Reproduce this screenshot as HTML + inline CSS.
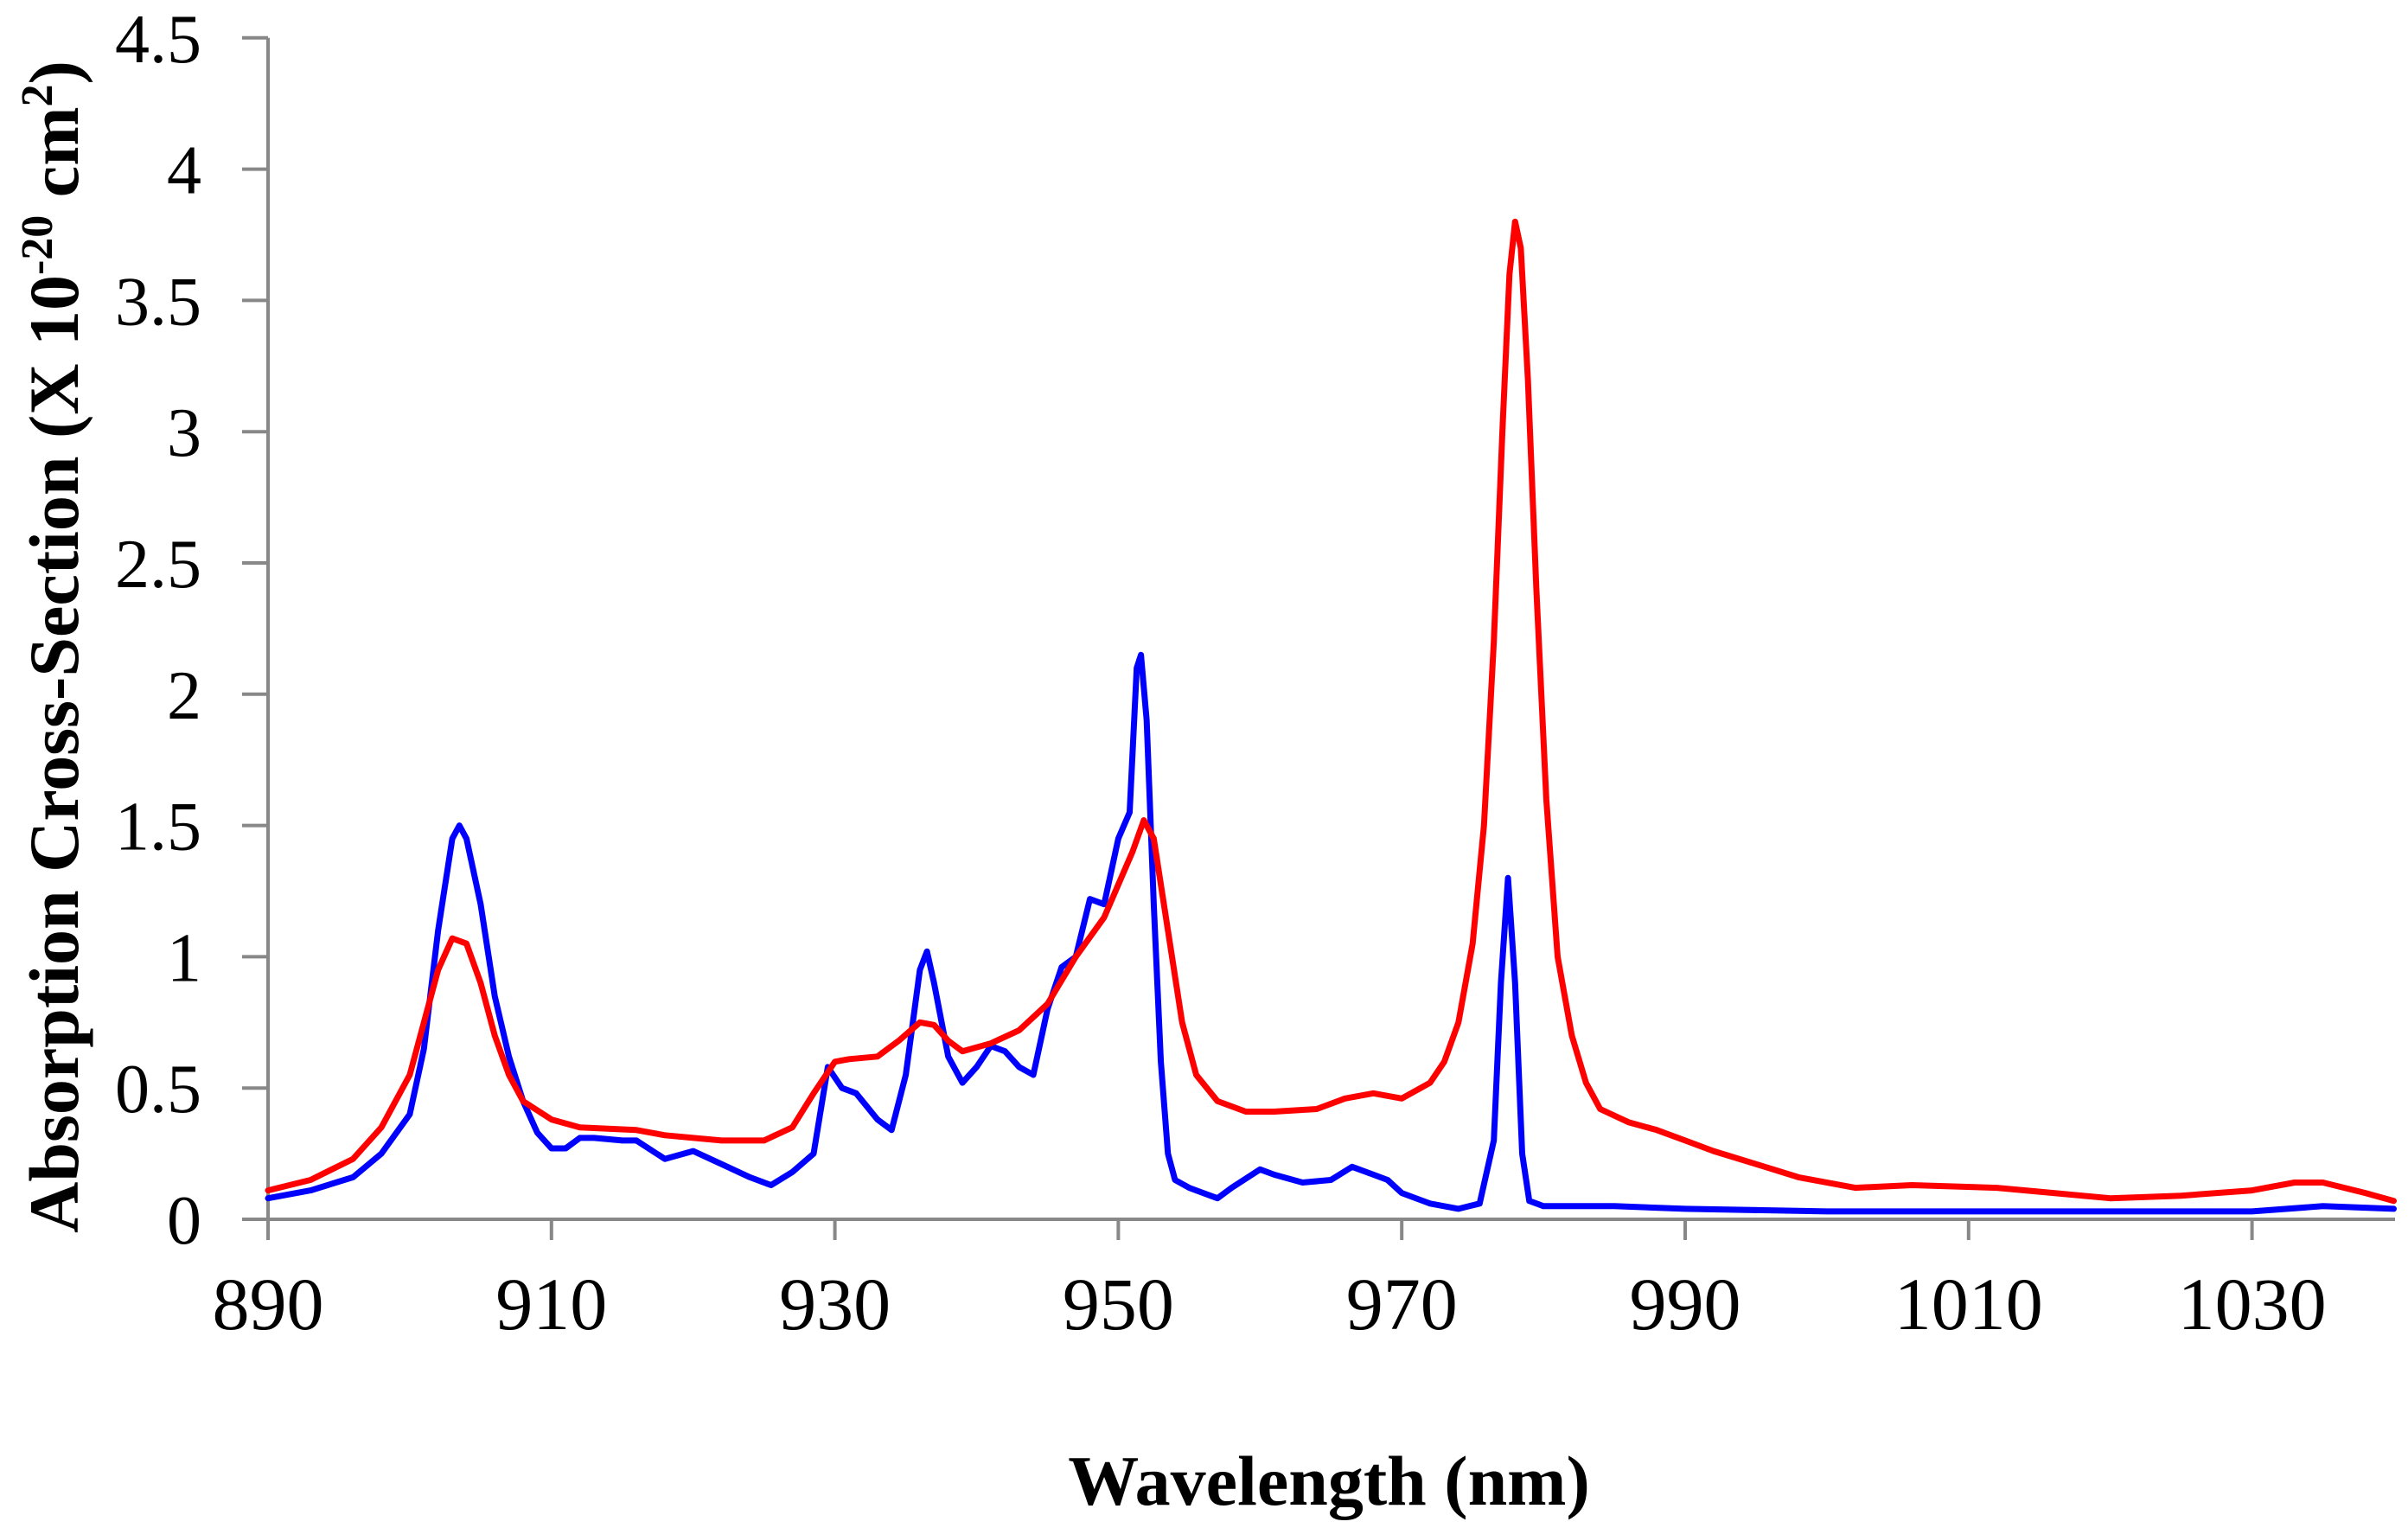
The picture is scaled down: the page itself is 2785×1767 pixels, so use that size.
<!DOCTYPE html>
<html><head><meta charset="utf-8"><style>
html,body{margin:0;padding:0;background:#fff;}
svg{display:block;}
text{font-family:"Liberation Serif",serif;fill:#000;}
</style></head><body>
<svg id="chart" width="2785" height="1767" viewBox="0 0 2785 1767" xmlns="http://www.w3.org/2000/svg">
<g id="axes"></g>
<g id="series"></g>
<text transform="translate(90,748) rotate(-90)" text-anchor="middle" font-size="82" font-weight="bold">Absorption Cross-Section (X 10<tspan dy="-30" font-size="52">-20</tspan><tspan dy="30"> cm</tspan><tspan dy="-30" font-size="52">2</tspan><tspan dy="30">)</tspan></text>
<text x="1537" y="1740" text-anchor="middle" font-size="82" font-weight="bold">Wavelength (nm)</text>
</svg>
<script>
const xTicks = [890, 910, 930, 950, 970, 990, 1010, 1030];
const yTicks = [0, 0.5, 1, 1.5, 2, 2.5, 3, 3.5, 4, 4.5];
const yTickLabels = ["0","0.5","1","1.5","2","2.5","3","3.5","4","4.5"];
const blueX = [890,893,896,898,900,901,902,903,903.5,904,905,906,907,908,909,910,911,912,913,915,916,918,920,922,924,925.5,927,928.5,929.5,930.5,931.5,933,934,935,936,936.5,937,938,939,940,941,942,943,944,945,946,947,948,949,950,950.8,951.3,951.6,952,952.5,953,953.5,954,955,957,958,960,961,963,965,966.5,968,969,970,972,974,975.5,976.5,977,977.5,978,978.5,979,980,985,990,1000,1010,1020,1030,1035,1040];
const blueY = [0.08,0.11,0.16,0.25,0.4,0.65,1.1,1.45,1.5,1.45,1.2,0.85,0.62,0.45,0.33,0.27,0.27,0.31,0.31,0.30,0.30,0.23,0.26,0.21,0.16,0.13,0.18,0.25,0.58,0.5,0.48,0.38,0.34,0.55,0.95,1.02,0.9,0.62,0.52,0.58,0.66,0.64,0.58,0.55,0.8,0.96,1.0,1.22,1.2,1.45,1.55,2.1,2.15,1.9,1.2,0.6,0.25,0.15,0.12,0.08,0.12,0.19,0.17,0.14,0.15,0.2,0.17,0.15,0.1,0.06,0.04,0.06,0.3,0.9,1.3,0.9,0.25,0.07,0.05,0.05,0.04,0.03,0.03,0.03,0.03,0.05,0.04];
const redX = [890,893,896,898,900,901,902,903,904,905,906,907,908,910,912,916,918,922,925,927,928.5,930,931,933,934.5,936,937,938,939,941,943,945,947,949,951,951.8,952.5,953.5,954.5,955.5,957,959,961,964,966,968,970,972,973,974,975,975.8,976.5,977.1,977.6,978,978.4,978.9,979.5,980.2,981,982,983,984,986,988,990,992,995,998,1002,1006,1012,1016,1020,1025,1030,1033,1035,1038,1040];
const redY = [0.11,0.15,0.23,0.35,0.55,0.75,0.95,1.07,1.05,0.9,0.7,0.55,0.45,0.38,0.35,0.34,0.32,0.3,0.3,0.35,0.48,0.6,0.61,0.62,0.68,0.75,0.74,0.68,0.64,0.67,0.72,0.82,1.0,1.15,1.4,1.52,1.45,1.1,0.75,0.55,0.45,0.41,0.41,0.42,0.46,0.48,0.46,0.52,0.6,0.75,1.05,1.5,2.2,3.0,3.6,3.8,3.7,3.2,2.4,1.6,1.0,0.7,0.52,0.42,0.37,0.34,0.3,0.26,0.21,0.16,0.12,0.13,0.12,0.1,0.08,0.09,0.11,0.14,0.14,0.1,0.07];

const X0 = 310, PXNM = 16.39, Y0 = 1410, PXU = 303.6, XEND = 2770;
function xs(v){ return X0 + (v - 890) * PXNM; }
function ys(v){ return Y0 - v * PXU; }
const NS = "http://www.w3.org/2000/svg";
const axes = document.getElementById('axes');
const series = document.getElementById('series');
function mk(tag, attrs, parent){ const e = document.createElementNS(NS, tag); for (const k in attrs) e.setAttribute(k, attrs[k]); parent.appendChild(e); return e; }

const yl = mk('line', {x1:X0, y1:ys(4.5), x2:X0, y2:Y0, stroke:'#888', 'stroke-width':4}, axes);


const xl = mk('line', {x1:X0-30, y1:Y0, x2:XEND, y2:Y0, stroke:'#888', 'stroke-width':4}, axes);



yTicks.forEach((t, i) => {
  const tk = mk('line', {x1:X0-30, y1:ys(t), x2:X0, y2:ys(t), stroke:'#888', 'stroke-width':4}, axes);
  
  
  const lb = mk('text', {x:233, y:ys(t)+28, 'text-anchor':'end', 'font-size':80}, axes);
  
  
  lb.textContent = yTickLabels[i];
});
xTicks.forEach(t => {
  const tk = mk('line', {x1:xs(t), y1:Y0, x2:xs(t), y2:Y0+24, stroke:'#888', 'stroke-width':4}, axes);
  
  
  const lb = mk('text', {x:xs(t), y:1537, 'text-anchor':'middle', 'font-size':86}, axes);
  
  
  lb.textContent = String(t);
});

function drawLine(xa, ya, color, name){
  const pts = xa.map((x, i) => xs(x).toFixed(1) + ',' + ys(ya[i]).toFixed(1)).join(' ');
  const p = mk('polyline', {points:pts, fill:'none', stroke:color, 'stroke-width':7, 'stroke-linejoin':'round', 'stroke-linecap':'round'}, series);
  
  
}
drawLine(blueX, blueY, '#0000ff', 'blue-series-line');
drawLine(redX, redY, '#ff0000', 'red-series-line');
</script>
</body></html>
